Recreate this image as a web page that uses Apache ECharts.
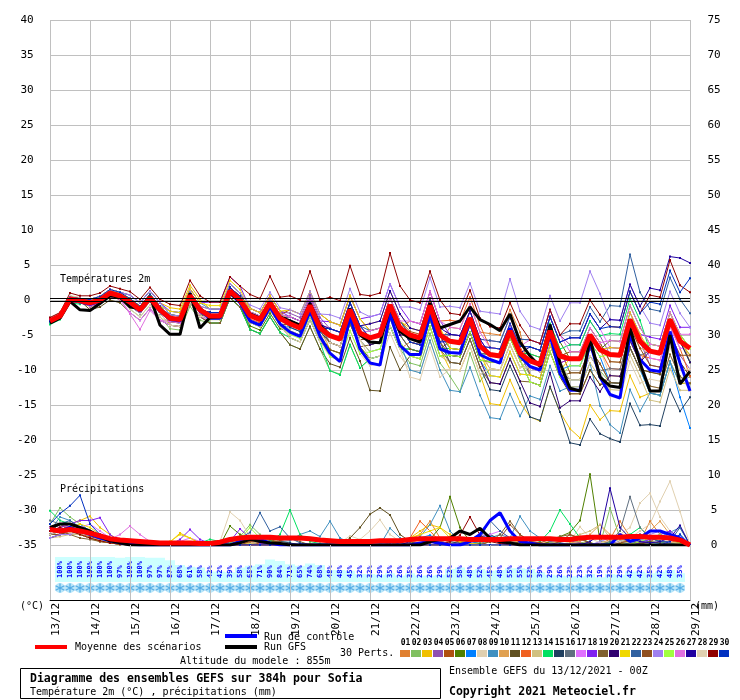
<!DOCTYPE html>
<html>
<head>
<meta charset="utf-8">
<script src="https://cdn.jsdelivr.net/npm/echarts@6/dist/echarts.min.js"></script>
<style>
  html, body { margin: 0; padding: 0; background: #fff; }
  #chart { width: 740px; height: 700px; }
</style>
</head>
<body>
<div id="chart"></div>
<script>
// tick labels, one per day (every 4 steps of 6h)
var dates = ['13/12','14/12','15/12','16/12','17/12','18/12','19/12','20/12','21/12',
             '22/12','23/12','24/12','25/12','26/12','27/12','28/12','29/12'];

// probability of precipitation, steps 1..63
var pct = [100,100,100,100,100,100,97,100,100,97, 97,87,68,61,58,42,42,39,58,65,
           71,90,84,71,65,74,68,48,48,45, 32,32,29,35,26,35,26,26,29,52,
           58,48,52,45,48,55,55,52,39,29, 26,23,23,32,19,32,29,42,42,35,
           42,48,35];

var pertColors = ['#e08030','#80c060','#f0c000','#9050b0','#b05010','#508000','#0080ff','#e0d0b0',
                  '#4090c0','#e0a050','#605020','#f06020','#d0c080','#00e060','#204060','#607080',
                  '#e070ff','#8020f0','#806030','#300070','#f0d800','#3060a0','#905020','#a080f0',
                  '#a0ff40','#e070e0','#2000a0','#e0d0b0','#900000','#0030c0'];

// 2m temperature (°C), every 6h from 13/12 00Z
var tempMean = [-3.0,-2.3,0.1,-0.1, -0.4,0.0,1.0,0.6, -0.3,-1.4,0.3,-1.4, -2.6,-2.8,0.6,-1.4,
  -2.3,-2.3,1.3,0.0, -2.2,-2.8,-0.4,-2.6, -3.4,-4.0,-0.8,-4.0, -5.1,-5.6,-1.4,-4.7,
  -5.4,-5.0,-0.7,-4.0, -5.0,-5.4,-0.8,-5.0, -5.9,-6.1,-2.6,-6.6, -7.8,-8.0,-4.4,-7.6,
  -8.7,-9.2,-4.4,-8.0, -8.4,-8.4,-5.0,-7.1, -7.8,-7.9,-2.8,-5.9, -7.3,-7.6,-2.8,-5.9, -6.9];

var tempCtrl = [-3.2,-2.5,0.0,-0.3, -0.6,-0.2,0.8,0.4, -0.5,-1.6,0.2,-1.6, -2.8,-3.0,0.4,-1.6,
  -2.6,-2.6,1.0,-0.4, -3.0,-3.6,-1.0,-3.4, -4.6,-5.2,-1.6,-5.2, -7.6,-8.8,-2.4,-7.0,
  -9.0,-9.3,-2.0,-6.5, -7.8,-7.8,-2.0,-7.0, -7.5,-7.6,-3.0,-7.8, -8.5,-9.0,-4.0,-8.0,
  -9.5,-10.0,-5.0,-10.5, -12.9,-12.9,-6.0,-11.0, -13.5,-14.0,-5.0,-8.5, -10.0,-10.2,-4.5,-9.0, -13.0];

var tempGfs = [-3.3,-2.6,-0.2,-1.4, -1.5,-0.5,0.6,0.4, -1.0,-1.2,0.5,-3.6, -4.9,-4.9,1.0,-4.0,
  -2.5,-2.4,1.0,-0.2, -2.0,-2.6,-0.6,-2.4, -3.0,-3.6,-0.5,-3.6, -5.0,-5.6,-1.2,-5.0,
  -6.0,-6.1,-1.0,-4.5, -5.5,-6.0,-0.5,-4.0, -3.5,-3.0,-1.0,-2.8, -3.5,-4.4,-2.0,-6.0,
  -8.0,-9.5,-3.5,-9.0, -12.6,-13.0,-5.5,-11.0, -12.3,-12.5,-4.0,-9.0, -13.0,-13.0,-5.0,-12.0, -10.2];

var tempPerts = [
  /*01*/ [-2.7,-2.0,0.4,0.2, -0.9,-0.5,0.5,0.1, 0.2,-0.9,0.8,-0.9, -3.6,-3.8,-0.4,-2.4, -1.8,-1.8,1.8,0.5, -1.2,-1.8,0.6,-1.6, -3.4,-4.0,-0.8,-4.0, -7.1,-7.6,-3.4,-6.7, -8.4,-8.0,-3.7,-7.0, -6.0,-6.4,-1.8,-6.0, -3.9,-4.1,-0.6,-4.6, -4.8,-5.0,-1.4,-4.6, -10.7,-11.2,-6.4,-10.0, -13.4,-13.4,-10.0,-12.1, -10.8,-10.9,-5.8,-8.9, -6.3,-6.6,-1.8,-4.9, -8.9],
  /*02*/ [-3.0,-2.6,-0.2,-0.4, -0.7,-0.3,0.7,0.3, -1.3,-2.4,-0.7,-2.4, -4.1,-4.3,-0.9,-2.9, -3.3,-3.3,0.3,-1.0, -4.2,-4.8,-2.4,-4.6, -6.4,-7.0,-3.8,-7.0, -10.1,-10.6,-6.4,-9.7, -8.4,-8.0,-3.7,-7.0, -9.0,-9.4,-4.8,-9.0, -10.9,-13.1,-7.6,-11.6, -9.8,-10.0,-6.4,-9.6, -9.7,-10.2,-5.4,-9.0, -11.4,-11.4,-8.0,-10.1, -11.8,-11.9,-6.8,-9.9, -13.3,-13.6,-8.8,-11.9, -11.9],
  /*03*/ [-2.8,-2.1,0.3,0.1, 0.1,0.5,1.5,1.1, 0.7,-0.4,1.3,-0.4, -1.1,-1.3,2.1,0.1, -1.3,-1.3,2.3,1.0, -1.7,-2.3,0.1,-2.1, -2.4,-3.0,0.2,-3.0, -5.1,-5.6,-1.4,-4.7, -6.4,-6.0,-1.7,-5.0, -7.0,-7.4,-2.8,-7.0, -9.9,-10.1,-6.6,-10.6, -14.8,-15.0,-11.4,-14.6, -16.7,-17.3,-12.4,-16.0, -18.4,-19.7,-15.0,-17.1, -15.8,-15.9,-10.8,-13.9, -13.3,-13.6,-8.8,-11.9, -11.9],
  /*04*/ [-3.0,-2.3,0.1,-0.1, 0.1,0.5,1.5,1.1, -0.8,-1.9,-0.2,-1.9, -2.6,-2.8,0.6,-1.4, -1.8,-1.8,1.8,0.5, -1.2,-1.8,0.6,-1.6, -1.9,-2.5,0.7,-2.5, -4.1,-4.6,-0.4,-3.7, -5.4,-5.0,-0.7,-4.0, -6.0,-6.4,-1.8,-6.0, -4.9,-5.1,-1.6,-5.6, -5.8,-6.0,-2.4,-5.6, -5.7,-6.2,-1.4,-5.0, -6.4,-6.4,-3.0,-5.1, -7.8,-7.9,-2.8,-5.9, -9.3,-9.6,-4.8,-7.9, -9.9],
  /*05*/ [-3.3,-2.6,-0.2,-0.4, -0.9,-0.5,0.5,0.1, -0.3,-1.4,0.3,-1.4, -2.1,-2.3,1.1,-0.9, -1.3,-1.3,2.3,1.0, -1.7,-2.3,0.1,-2.1, -1.4,-2.0,1.2,-2.0, -3.1,-3.6,0.6,-2.7, -4.4,-4.0,0.3,-3.0, -4.5,-4.9,-0.3,-4.5, -6.9,-7.1,-3.6,-7.6, -7.8,-8.0,-4.4,-7.6, -7.7,-8.2,-3.4,-7.0, -10.4,-10.4,-7.0,-9.1, -11.8,-11.9,-6.8,-9.9, -10.3,-10.6,-5.8,-8.9, -10.9],
  /*06*/ [-3.0,-2.0,0.6,0.2, -0.1,0.3,1.3,0.9, 0.2,-0.9,0.8,-0.9, -3.1,-3.3,0.1,-1.9, -3.3,-3.3,0.3,-1.0, -3.7,-4.3,-1.9,-4.1, -4.4,-5.0,-1.8,-5.0, -7.1,-7.6,-3.4,-6.7, -8.4,-8.0,-3.7,-7.0, -7.0,-7.4,-2.8,-7.0, -5.9,-6.1,-2.6,-6.6, -6.8,-7.0,-3.4,-6.6, -6.7,-7.2,-2.4,-6.0, -8.4,-8.4,-5.0,-7.1, -5.8,-5.9,-0.8,-3.9, -6.3,-6.6,-1.8,-4.9, -6.9],
  /*07*/ [-3.0,-2.5,-0.1,-0.3, -0.6,-0.2,0.8,0.4, 0.0,-1.1,0.6,-1.1, -2.1,-2.3,1.1,-0.9, -2.3,-2.3,1.3,0.0, -3.2,-3.8,-1.4,-3.6, -3.9,-4.5,-1.3,-4.5, -5.1,-5.6,-1.4,-4.7, -6.4,-6.0,-1.7,-5.0, -7.0,-7.4,-2.8,-7.0, -7.9,-8.1,-4.6,-8.6, -10.8,-11.0,-7.4,-10.6, -10.7,-11.2,-6.4,-10.0, -9.4,-9.4,-6.0,-8.1, -11.8,-11.9,-6.8,-9.9, -13.3,-13.6,-8.8,-13.9, -18.3],
  /*08*/ [-2.5,-1.8,0.6,0.4, -0.9,-0.5,0.5,0.1, -1.3,-2.4,-0.7,-2.4, -3.6,-3.8,-0.4,-2.4, -2.8,-2.8,0.8,-0.5, -2.2,-2.8,-0.4,-2.6, -5.4,-6.0,-2.8,-6.0, -8.1,-8.6,-4.4,-7.7, -9.4,-9.0,-4.7,-8.0, -10.0,-10.4,-5.8,-10.0, -9.9,-10.1,-6.6,-10.6, -10.8,-11.0,-7.4,-10.6, -10.7,-11.2,-6.4,-10.0, -8.4,-8.4,-5.0,-7.1, -10.8,-10.9,-5.8,-8.9, -12.3,-12.6,-7.8,-10.9, -12.9],
  /*09*/ [-3.3,-2.6,-0.2,-0.4, -0.4,0.0,1.0,0.6, 0.2,-0.9,0.8,-0.9, -1.6,-1.8,1.6,-0.4, -1.3,-1.3,2.3,1.0, -2.2,-2.8,-0.4,-2.6, -2.9,-3.5,-0.3,-3.5, -6.1,-6.6,-2.4,-5.7, -7.4,-7.0,-2.7,-6.0, -10.0,-10.4,-5.8,-10.0, -12.9,-13.1,-9.6,-13.6, -16.8,-17.0,-13.4,-16.6, -13.7,-14.2,-9.4,-13.0, -12.4,-12.4,-9.0,-15.1, -17.8,-19.0,-12.8,-15.9, -13.3,-13.6,-8.8,-11.9, -10.9],
  /*10*/ [-3.0,-2.3,0.1,-0.1, -0.4,0.0,1.0,0.6, 0.2,-0.9,0.8,-0.9, -2.6,-2.8,0.6,-1.4, -1.8,-1.8,1.8,0.5, -1.2,-1.8,0.6,-1.6, -3.4,-4.0,-0.8,-4.0, -4.1,-4.6,-0.4,-3.7, -3.4,-3.0,1.3,-2.0, -4.0,-4.4,0.2,-4.0, -6.9,-7.1,-3.6,-7.6, -9.8,-10.0,-6.4,-9.6, -8.7,-9.2,-4.4,-8.0, -7.4,-7.4,-4.0,-6.1, -8.8,-8.9,-3.8,-6.9, -7.3,-7.6,-2.8,-5.9, -8.9],
  /*11*/ [-3.0,-2.3,0.1,-0.1, -1.4,-1.0,0.0,-0.4, -1.8,-2.9,-1.2,-2.9, -3.6,-3.8,-0.4,-2.4, -3.3,-3.3,0.3,-1.0, -4.2,-4.8,-2.4,-4.6, -6.4,-7.0,-3.8,-7.0, -9.1,-9.6,-5.4,-8.7, -12.9,-13.0,-6.7,-10.0, -8.0,-8.4,-3.8,-8.0, -7.9,-8.1,-4.6,-8.6, -8.8,-9.0,-5.4,-8.6, -11.7,-12.2,-7.4,-11.0, -13.4,-13.4,-10.0,-12.1, -11.8,-11.9,-6.8,-9.9, -10.3,-10.6,-5.8,-8.9, -10.9],
  /*12*/ [-2.7,-2.0,0.4,0.2, -0.4,0.0,1.0,0.6, -0.3,-1.4,0.3,-1.4, -2.1,-2.3,1.1,-0.9, -2.3,-2.3,1.3,0.0, -2.7,-3.3,-0.9,-3.1, -2.9,-3.5,-0.3,-3.5, -4.1,-4.6,-0.4,-3.7, -5.4,-5.0,-0.7,-4.0, -3.0,-3.4,1.2,-3.0, -2.9,-3.1,0.4,-3.6, -6.8,-7.0,-3.4,-6.6, -9.7,-10.2,-5.4,-9.0, -8.4,-8.4,-5.0,-7.1, -9.8,-9.9,-4.8,-7.9, -8.3,-8.6,-3.8,-6.9, -10.9],
  /*13*/ [-3.0,-2.3,0.1,-0.1, 0.1,0.5,1.5,1.1, -0.3,-1.4,0.3,-1.4, -2.6,-2.8,0.6,-1.4, -3.3,-3.3,0.3,-1.0, -2.2,-2.8,-0.4,-2.6, -4.4,-5.0,-1.8,-5.0, -6.1,-6.6,-2.4,-5.7, -7.4,-7.0,-2.7,-6.0, -8.0,-8.4,-3.8,-8.0, -8.9,-9.1,-5.6,-9.6, -8.8,-9.0,-5.4,-8.6, -10.7,-11.2,-6.4,-10.0, -12.4,-12.4,-9.0,-11.1, -12.8,-12.9,-7.8,-10.9, -14.3,-14.6,-9.8,-12.9, -12.9],
  /*14*/ [-3.5,-2.8,-0.4,-0.6, 0.1,0.5,1.5,1.1, 0.7,-0.4,1.3,-0.4, -2.1,-2.3,1.1,-0.9, -3.3,-3.3,0.3,-1.0, -4.2,-4.8,-2.4,-4.6, -5.4,-6.0,-2.8,-6.0, -10.1,-10.7,-6.4,-9.7, -8.4,-8.0,-3.7,-7.0, -7.0,-7.4,-2.8,-7.0, -6.9,-7.1,-3.6,-7.6, -7.8,-8.0,-4.4,-7.6, -7.7,-8.2,-3.4,-7.0, -6.4,-6.4,-3.0,-5.1, -4.8,-4.9,0.2,-2.9, -7.3,-7.6,-2.8,-5.9, -8.9],
  /*15*/ [-3.0,-2.3,0.1,-0.1, -0.4,0.0,1.0,0.6, -0.8,-1.9,-0.2,-1.9, -2.6,-2.8,0.6,-1.4, -1.8,-1.8,1.8,0.5, -2.2,-2.8,-0.4,-2.6, -3.9,-4.5,-1.3,-4.5, -6.1,-6.6,-2.4,-5.7, -5.4,-5.0,-0.7,-4.0, -6.0,-6.4,-1.8,-6.0, -8.9,-9.1,-5.6,-9.6, -12.8,-13.0,-9.4,-12.6, -16.7,-17.2,-12.4,-16.0, -20.4,-20.7,-17.0,-19.1, -19.8,-20.3,-14.8,-17.9, -17.8,-18.0,-12.8,-15.9, -13.9],
  /*16*/ [-3.0,-2.3,0.1,-0.1, -0.4,0.0,1.0,0.6, -0.3,-1.4,0.3,-1.4, -2.1,-2.3,1.1,-0.9, -2.3,-2.3,1.3,0.0, -1.7,-2.3,0.1,-2.1, -2.4,-3.0,0.2,-3.0, -5.1,-5.6,-1.4,-4.7, -4.4,-4.0,0.3,-3.0, -5.0,-5.4,-0.8,-5.0, -6.9,-7.1,-3.6,-7.6, -7.8,-8.0,-4.4,-7.6, -10.7,-11.2,-6.4,-10.0, -11.4,-11.4,-8.0,-10.1, -9.8,-9.9,-4.8,-7.9, -7.3,-7.6,-2.8,-5.9, -7.9],
  /*17*/ [-3.0,-2.3,0.1,-0.1, -0.9,-0.5,0.5,0.1, -1.8,-2.9,-1.2,-2.9, -3.6,-3.8,-0.4,-2.4, -2.8,-2.8,0.8,-0.5, -2.2,-2.8,-0.4,-2.6, -2.9,-3.5,-0.3,-3.5, -4.1,-4.6,-0.4,-3.7, -5.4,-5.0,-0.7,-4.0, -6.0,-6.4,-1.8,-6.0, -5.9,-6.1,-2.6,-6.6, -6.8,-7.0,-3.4,-6.6, -6.7,-7.2,-2.4,-6.0, -5.4,-5.4,-2.0,-4.1, -6.8,-6.9,-1.8,-4.9, -8.3,-8.6,-3.8,-6.9, -6.9],
  /*18*/ [-2.7,-2.0,0.4,0.2, 0.1,0.5,1.5,1.1, 0.7,-0.4,1.3,-0.4, -1.6,-1.8,1.6,-0.4, -0.3,-0.3,3.3,2.0, -1.2,-1.8,0.6,-1.6, -2.4,-3.0,0.2,-3.0, -3.1,-3.6,0.6,-2.7, -2.4,-2.0,2.3,-1.0, -3.0,-3.4,1.2,-3.0, -4.9,-5.1,-1.6,-5.6, -7.8,-8.0,-4.4,-7.6, -9.7,-10.2,-5.4,-9.0, -8.4,-8.4,-5.0,-7.1, -6.8,-6.9,-1.8,-4.9, -5.3,-5.6,-0.8,-3.9, -3.9],
  /*19*/ [-3.0,-2.3,0.1,-0.1, -0.9,-0.5,0.5,0.1, -0.8,-1.9,-0.2,-1.9, -3.6,-3.8,-0.4,-2.4, -3.3,-3.3,0.3,-1.0, -3.2,-3.8,-1.4,-3.6, -5.4,-6.0,-2.8,-6.0, -7.1,-7.6,-3.4,-6.7, -6.4,-6.0,-1.7,-5.0, -7.0,-7.4,-2.8,-7.0, -8.9,-9.1,-5.6,-9.6, -11.8,-12.0,-8.4,-11.6, -11.7,-12.2,-7.4,-11.0, -10.4,-10.4,-7.0,-9.1, -11.8,-11.9,-6.8,-9.9, -12.3,-12.6,-7.8,-10.9, -11.9],
  /*20*/ [-3.0,-2.3,0.1,-0.1, -0.4,0.0,1.0,0.6, 0.2,-0.9,0.8,-0.9, -2.6,-2.8,0.6,-1.4, -1.8,-1.8,1.8,0.5, -2.2,-2.8,-0.4,-2.6, -2.4,-3.0,0.2,-3.0, -5.1,-5.6,-1.4,-4.7, -6.4,-6.0,-1.7,-5.0, -5.0,-5.4,-0.8,-5.0, -7.9,-8.1,-4.6,-8.6, -11.8,-12.0,-8.4,-11.6, -14.7,-15.2,-10.4,-15.4, -14.4,-14.4,-11.0,-13.1, -10.8,-10.9,-5.8,-8.9, -7.3,-7.6,-2.8,-5.9, -8.9],
  /*21*/ [-3.0,-2.3,0.1,-0.1, 0.1,0.5,1.5,1.1, 0.2,-0.9,0.8,-0.9, -1.6,-1.8,1.6,-0.4, -0.8,-0.8,2.8,1.5, -1.2,-1.8,0.6,-1.6, -1.4,-2.0,1.2,-2.0, -3.1,-3.6,0.6,-2.7, -4.4,-4.0,0.3,-3.0, -4.0,-4.4,0.2,-4.0, -6.9,-7.1,-3.6,-7.6, -10.8,-11.0,-7.4,-10.6, -10.7,-11.2,-6.4,-10.0, -8.4,-8.4,-5.0,-7.1, -6.8,-6.9,-1.8,-4.9, -7.3,-7.6,-2.8,-5.9, -7.9],
  /*22*/ [-3.0,-2.3,0.1,-0.1, -0.4,0.0,1.0,0.6, -0.8,-1.9,-0.2,-1.9, -2.6,-2.8,0.6,-1.4, -2.3,-2.3,1.3,0.0, -1.7,-2.3,0.1,-2.1, -3.4,-4.0,-0.8,-4.0, -4.1,-4.6,-0.4,-3.7, -4.4,-4.0,0.3,-3.0, -5.0,-5.4,-0.8,-5.0, -4.9,-5.1,-1.6,-5.6, -5.8,-6.0,-2.4,-5.6, -5.7,-6.2,-1.4,-5.0, -4.4,-4.4,-1.0,-3.1, -0.8,-0.9,6.5,1.1, -1.3,-1.6,3.2,0.1, -1.9],
  /*23*/ [-3.0,-2.3,0.1,-0.1, -0.9,-0.5,0.5,0.1, -0.3,-1.4,0.3,-1.4, -3.1,-3.3,0.1,-1.9, -2.3,-2.3,1.3,0.0, -3.2,-3.8,-1.4,-3.6, -3.4,-4.0,-0.8,-4.0, -6.1,-6.6,-2.4,-5.7, -5.4,-5.0,-0.7,-4.0, -6.0,-6.4,-1.8,-6.0, -7.9,-8.1,-4.6,-8.6, -8.8,-9.0,-5.4,-8.6, -8.7,-9.2,-4.4,-8.0, -7.4,-7.4,-4.0,-6.1, -8.8,-8.9,-3.8,-6.9, -9.3,-9.6,-4.8,-7.9, -7.9],
  /*24*/ [-3.0,-2.3,0.1,-0.1, 0.1,0.5,1.5,1.1, 0.7,-0.4,1.3,-0.4, -2.1,-2.3,1.1,-0.9, -1.3,-1.3,2.3,1.0, -0.7,-1.3,1.1,-1.1, -1.4,-2.0,1.2,-2.0, -2.1,-2.6,1.6,-1.7, -2.4,-2.0,2.3,-1.0, -1.0,-1.4,3.2,-1.0, -0.9,-1.1,2.4,-1.6, -1.8,-2.0,3.0,-1.6, -3.7,-4.2,0.6,-3.0, -0.4,-0.4,4.1,0.9, -2.8,-2.9,2.2,-0.9, -3.3,-3.6,1.2,-1.9, -3.9],
  /*25*/ [-3.0,-2.3,0.1,-0.1, -0.4,0.0,1.0,0.6, 0.2,-0.9,0.8,-0.9, -2.6,-2.8,0.6,-1.4, -2.8,-2.8,0.8,-0.5, -3.2,-3.8,-1.4,-3.6, -4.9,-5.5,-2.3,-5.5, -8.1,-8.6,-4.4,-7.7, -7.4,-7.0,-2.7,-6.0, -8.0,-8.4,-3.8,-8.0, -7.9,-8.1,-4.6,-8.6, -8.8,-9.0,-5.4,-8.6, -11.7,-12.2,-7.4,-11.0, -9.4,-9.4,-6.0,-8.1, -7.8,-7.9,-2.8,-5.9, -6.3,-6.6,-1.8,-4.9, -6.9],
  /*26*/ [-3.0,-2.3,0.1,-0.1, -0.9,-0.5,0.5,0.1, -2.0,-4.2,-1.5,-2.9, -3.1,-3.3,0.1,-1.9, -2.3,-2.3,1.3,0.0, -1.7,-2.3,0.1,-2.1, -2.4,-3.0,0.2,-3.0, -5.1,-5.6,-1.4,-4.7, -4.4,-4.0,0.3,-3.0, -3.0,-3.4,1.2,-3.0, -3.9,-4.1,-0.6,-4.6, -6.8,-7.0,-3.4,-6.6, -5.7,-6.2,-1.4,-5.0, -7.4,-7.4,-4.0,-6.1, -5.8,-5.9,-0.8,-3.9, -6.3,-6.6,-1.8,-4.9, -4.9],
  /*27*/ [-3.0,-2.3,0.1,-0.1, -0.4,0.0,1.0,0.6, -0.3,-1.4,0.3,-1.4, -2.6,-2.8,0.6,-1.4, -1.8,-1.8,1.8,0.5, -2.2,-2.8,-0.4,-2.6, -2.9,-3.5,-0.3,-3.5, -4.1,-4.6,-0.4,-3.7, -3.4,-3.0,1.3,-2.0, -4.0,-4.4,0.2,-4.0, -4.9,-5.1,-1.6,-5.6, -7.8,-8.0,-4.4,-7.6, -6.7,-7.2,-2.4,-6.0, -5.4,-5.4,-2.0,-4.1, -2.8,-2.9,2.2,-0.9, 1.7,1.4,6.2,6.0, 5.3],
  /*28*/ [-3.0,-2.3,0.1,-0.1, 0.1,0.5,1.5,1.1, -0.8,-1.9,-0.2,-1.9, -3.6,-3.8,-0.4,-2.4, -2.3,-2.3,1.3,0.0, -3.2,-3.8,-1.4,-3.6, -5.4,-6.0,-2.8,-6.0, -6.1,-6.6,-2.4,-5.7, -8.4,-8.0,-3.7,-7.0, -11.0,-11.4,-6.8,-11.0, -9.9,-10.1,-6.6,-10.6, -9.8,-10.0,-6.4,-9.6, -9.7,-10.2,-5.4,-9.0, -11.4,-11.4,-8.0,-10.1, -13.8,-13.9,-8.8,-11.9, -11.3,-11.6,-6.8,-9.9, -9.9],
  /*29*/ [-2.5,-1.8,1.0,0.6, 0.6,1.0,2.0,1.6, 1.2,0.1,1.8,0.1, -0.6,-0.8,2.8,0.6, -0.3,-0.3,3.3,2.0, 0.8,0.2,3.4,0.4, 0.6,0.0,4.1,0.0, 0.4,-0.1,4.9,0.8, 0.6,1.0,6.7,2.0, 0.0,-0.4,4.1,0.0, -1.9,-2.1,1.4,-2.6, -3.8,-4.0,-0.4,-3.6, -5.7,-6.2,-1.4,-5.0, -3.4,-3.4,0.0,-2.1, -3.8,-3.9,1.2,-1.9, 0.7,0.4,5.7,2.1, 1.1],
  /*30*/ [-3.0,-2.3,0.1,-0.1, 0.1,0.5,1.5,1.1, 0.2,-0.9,0.8,-0.9, -2.6,-2.8,0.6,-1.4, -1.8,-1.8,1.8,0.5, -2.2,-2.8,-0.4,-2.6, -3.4,-4.0,-0.8,-4.0, -4.1,-4.6,-0.4,-3.7, -5.4,-5.0,-0.7,-4.0, -6.0,-6.4,-1.8,-6.0, -5.9,-6.1,-2.6,-6.6, -6.8,-7.0,-3.4,-6.6, -6.7,-7.2,-2.4,-6.0, -5.4,-5.4,-2.0,-4.1, -3.8,-3.9,1.2,-1.9, -0.3,-0.6,4.2,1.1, 3.1]
];

// 6h precipitation (mm)
var precMean = [2.2,2.0,2.2,2.0,1.7,1.3,0.9,0.7, 0.6,0.5,0.4,0.3,0.3,0.3,0.3,0.2,
  0.2,0.4,0.8,1.0,1.1,1.1,1.1,1.0, 1.0,1.0,0.9,0.7,0.6,0.5,0.5,0.5,
  0.5,0.6,0.6,0.6,0.8,0.9,0.9,0.9, 0.9,0.9,0.8,0.8,0.8,0.8,0.9,0.9,
  0.9,0.9,0.9,0.8,0.8,1.0,1.1,1.1, 1.1,1.1,1.2,1.2,1.1,1.1,1.0,0.7, 0];

var precCtrl = [2.2,2.0,2.5,2.0,1.5,1.0,0.6,0.3, 0.1,0,0,0,0,0,0,0, 0,0,0,0.5,1.2,0.8,0.3,0,
  0,0,0,0,0,0,0,0, 0,0,0,0,0,0.3,0.5,0.3, 0,0,0.5,1.5,3.5,4.6,2.0,0.5,
  0.3,0,0,0,0,0,0,0, 0,1.5,0.5,1.0,2.0,2.0,1.5,1.0, 0];

var precGfs = [2.5,3.0,3.0,2.5,2.0,1.2,0.6,0.3, 0,0,0,0,0,0,0,0, 0,0,0,0.3,0.8,0.5,0.3,0.2,
  0,0,0,0,0,0,0,0, 0,0,0,0,0,0,0.5,0.8, 1.0,2.0,1.5,2.4,1.0,0.5,0.3,0,
  0,0,0,0,0,0,0,0, 0,0,0,0,0,0,0,0, 0];

var precPerts = [
  /*01*/ [1.5,2.0,2.5,2.0,1.5,1.0,0.5,0.3, 0.2,0.1,0,0,0,0,0,0, 0,0,0.5,1.0,0.8,0.5,0.3,0.2, 0,0,0,0,0.3,0.2,0,0, 0,0,0.3,0.5,0.8,1.5,3.4,1.0, 0.3,0,0.2,0.3,0.5,0.4,0.2,0, 0,0.2,0.4,0.3,0,0,0,0.2, 0.8,3.4,1.2,0.5,3.4,1.5,0.6,0.3, 0],
  /*02*/ [3.0,5.3,4.0,3.0,2.0,1.2,0.8,0.4, 0.2,0,0,0,0,0,0,0, 0,0,0.4,1.2,2.9,1.5,0.6,0.3, 0.2,0,0,0,0,0,0,0, 0,0,0,0,0,0.2,0.5,0.3, 0.2,0.5,0.3,0,0,0,0,0, 0,0,0.3,0.5,0.8,0.4,0.2,0, 5.3,1.0,0.3,0.5,0.2,0,0.3,0.2, 0],
  /*03*/ [2.0,2.5,3.0,3.5,4.1,2.5,1.5,0.6, 0.3,0.2,0,0,0.4,1.7,1.0,0.3, 0,0,0.2,0.3,0.2,0,0,0, 0,0,0.2,0,0,0,0,0, 0,0,0,0.5,1.0,2.0,2.9,2.5, 1.5,0.8,0.3,0,0,0,0.3,0.5, 0.3,0,0,0,0,0.2,0.3,0, 0,0.2,0.3,0,0,0,0,0, 0],
  /*04*/ [1.0,1.5,2.0,2.5,2.0,1.5,0.8,0.3, 0.2,0,0,0,0,0,0,0, 0,0,0,0.5,0.8,0.4,0.2,0, 0,0,0,0,0,0,0,0, 0,0,0,0.2,0.4,0.3,0,0, 0,0.4,0.8,1.6,1.0,0.5,0.2,0, 0,0,0.2,0.4,0.6,0.3,0,0, 0.2,0.5,0.8,1.2,0.8,1.5,1.0,0.5, 0],
  /*05*/ [2.5,2.0,1.5,1.5,1.2,0.8,0.4,0.2, 0,0,0,0,0,0,0,0, 0,0,0,0,0,0.3,0.6,0.3, 0,0,0,0,0,0,0,0, 0,0,0,0,0,0,0.3,0.5, 0.8,0.4,0.2,0,0,0,0,0, 0,0,0,0,0,0,0,0.2, 0.5,1.0,0.6,0.2,0.5,1.2,0.8,0.3, 0],
  /*06*/ [2.0,3.0,2.5,2.0,1.5,1.0,0.6,0.2, 0,0,0,0,0,0,0,0, 0,0,2.7,1.5,0.8,0.4,0.6,0.3, 0,0,0,0,0,0,0,0, 0,0,0,0,0,0,0.8,2.5, 6.9,2.5,0.5,0.2,0,0,0,0, 0,0,0.5,1.2,1.8,3.5,10.1,0.5, 0.2,0,0,0,0,0,0,0, 0],
  /*07*/ [1.5,2.0,2.5,3.0,2.0,1.2,0.8,0.4, 0.2,0,0,0,0,0,0,0, 0,0,0,0.5,1.0,0.6,0.2,0, 0,0,0,0,0,0,0,0, 0,0,0,0.3,0.6,1.0,1.4,0.5, 0.2,0,0.3,0.5,1.2,1.0,0.4,0.2, 0,0,0,0,0,0,0,0, 0,0.3,0.5,0.8,0.4,0.2,0.6,1.5, 0],
  /*08*/ [1.0,1.5,1.5,2.0,1.5,1.0,0.5,0.2, 0,0,0,0,0,0,0,0, 0,0.5,4.7,3.5,1.2,0.4,0.2,0, 0,0,0,0,0,0.3,1.3,0.8, 2.0,3.6,1.5,0.5,0.2,0,0,0, 0,0,0,0,0,0,0,0, 0,0,0,0,0.5,2.6,1.0,0.3, 0.5,1.5,2.5,6.0,7.4,4.0,2.0,0.8, 0],
  /*09*/ [2.0,4.0,3.5,2.5,1.8,1.2,0.6,0.3, 0.1,0,0,0,0,0,0,0, 0,0,0,0,0,0.5,1.0,0.5, 0.6,1.5,2.0,1.2,3.4,1.0,0.3,0, 0,0,2.4,1.0,0.5,1.2,2.9,5.6, 2.0,0.5,0.2,0,1.0,1.5,1.0,4.1, 2.0,1.0,0.5,0.3,0,0,0,0, 0,0,0.3,0.5,0.8,1.2,1.8,2.5, 0],
  /*10*/ [1.5,2.0,2.0,1.5,1.0,0.6,0.3,0.1, 0,0,0,0,0,0,0,0, 0,0,0.3,0.5,0.3,0,0,0, 0,0,0,0,0,0,0,0, 0,0,0,0,0.3,0.8,0.5,0.2, 0,0,0,0,0,0,0,0, 0,0,0,0,0.3,0.5,1.5,2.9, 1.5,0.8,0.5,1.0,2.0,3.4,1.5,0.5, 0],
  /*11*/ [2.5,3.0,2.0,1.5,1.0,0.8,0.4,0.2, 0,0,0,0,0,0,0,0, 0,0,0.5,0.8,0.5,0.3,0,0, 0,0,0,0,0,0,1.0,2.5, 4.4,5.3,4.3,1.5,0.5,0,0,0, 0,0,0,0,0,0,0.5,0.3, 0,0,0,0,0,0,0,0, 0,0,0,0.3,0.5,0.3,0.2,0, 0],
  /*12*/ [2.0,2.5,3.0,2.5,2.0,1.5,0.8,0.4, 0.2,0,0,0,0,0,0,0, 0,0,0,0.3,0.5,0.3,0,0, 0,0,0,0,0,0,0,0, 0,0,0,0.5,1.0,3.4,2.0,0.5, 0.2,0,0,0,0,0,0,0, 0,0,0,0,0,0,0,0, 0,0.3,0.8,1.5,1.0,0.5,0.3,0.2, 0],
  /*13*/ [1.0,1.2,1.5,1.5,1.0,0.5,0.3,0.1, 0,0,0,0,0,0,0,0, 0,0,0,0,0.2,0.5,0.8,0.5, 0.2,0,0,0,0,0,0,0, 0,0.2,0.5,0.3,0,0,0,0, 0,0,0,0,0,0,0,0, 0,0,0.2,0.5,1.0,1.5,2.0,2.9, 1.0,0.5,0.3,0.8,1.2,0.6,0.3,0.2, 0],
  /*14*/ [4.9,3.5,3.0,2.5,2.0,1.5,0.8,0.4, 0.2,0.1,0,0,0,0,0,0.3, 0.8,0.5,0.2,0,0,0,0.5,1.5, 5.0,1.5,0.5,0.2,0,0,0,0, 0,0,0,0,0,0,0,0, 0,0,0,0,0,0,0,0, 0,0.5,2.0,5.0,3.0,1.0,0.3,0, 0.3,1.0,1.5,2.5,1.0,0.5,0.2,0, 0],
  /*15*/ [1.5,2.0,2.5,2.0,1.5,1.0,0.5,0.2, 0,0,0,0,0,0,0,0, 0,0,0,0,0,0,0.3,0.5, 0.3,0,0,0,0,0,0,0, 0,0,0,0,0,0,0.5,1.0, 0.5,0.2,0.5,1.0,1.5,0.8,0.3,0, 0,0,0,0,0,0,0,0, 0,0,0,0,0,0,0,0, 0],
  /*16*/ [3.5,3.0,2.5,2.0,1.5,1.0,0.5,0.2, 0,0,0,0,0,0,0,0, 0,0,0,0,0,0,0,0, 0,0,0,0,0,0,0,0, 0,0,0,0,0,0,0,0, 0,0,0,0,0,0,0,0, 0,0,0,0,0,0,0,0, 0.5,2.0,6.9,2.5,1.0,0.5,0.2,0, 0],
  /*17*/ [2.0,2.5,2.0,2.5,3.0,2.0,1.0,0.5, 0.3,0,0,0,0,0.5,1.0,0.5, 0,0,0,0,0,0,0,0, 0,0,0,0,0,0,0,0, 0,0,0,0,0,0,0,0, 0,0,0.3,0.8,1.5,2.0,1.0,0.5, 0,0,0,0,0,0,0,0, 0,0,0,0,0,0,0,0, 0],
  /*18*/ [2.0,2.5,3.0,3.5,3.5,3.9,1.5,0.5, 0.2,0,0,0,0,0.8,2.2,0.8, 0.2,0,0.5,2.3,1.0,0.3,0,0, 0,0,0,0,0,0,0,0, 0,0,0,0,0,0,0,0, 0,0,0,0,0,0,0,0, 0,0,0,0,0,0,0,0, 0,0,0,0.3,0.8,1.5,2.0,1.0, 0],
  /*19*/ [1.5,2.0,1.5,1.0,0.8,0.5,0.3,0.1, 0,0,0,0,0,0,0,0, 0,0,0,0,0,0,0.3,0.6, 1.0,0.5,0,0,0,0,0,0, 0,0,0,0,0,0,0,0, 0,0,0,0,0.5,1.5,3.4,1.5, 0.5,0.3,0.8,1.2,1.5,0.8,0.3,0, 0,0,0,0,0,0,0,0, 0],
  /*20*/ [1.0,1.5,2.0,2.0,1.5,1.0,0.5,0.2, 0,0,0,0,0,0,0,0, 0,0,0,0,0,0,0,0, 0,0,0,0,0,0,0,0, 0,0,0,0,0,0.3,0.5,0.3, 0,0,0.5,1.2,0.8,0.3,0,0, 0,0,0,0,0,0,0,0, 0,0,0,0,0,0,0,0, 0],
  /*21*/ [1.5,2.0,2.5,3.0,2.5,1.5,0.8,0.3, 0.1,0,0,0,0.5,1.5,1.0,0.2, 0,0,0,0,0,0,0,0, 0,0,0,0,0,0,0,0, 0,0,0,0.5,1.0,1.5,2.0,2.5, 1.0,0.5,0.3,0,0,0,0,0, 0,0,0,0,0,0,0,0, 0,0,0,0,0,0,0,0, 0],
  /*22*/ [2.0,3.0,3.5,2.5,2.0,1.5,0.6,0.3, 0,0,0,0,0,0,0,0, 0,0,0.3,1.0,1.8,4.6,2.0,2.6, 1.0,0.3,0,0,0,0,0,0, 0,0,0,0,0,0,0,0, 0,0,0.5,1.0,3.5,2.0,1.0,0.5, 0,0,0,0,0,0,0,0, 0,0.5,1.0,1.5,1.0,0.5,0.5,2.5, 0],
  /*23*/ [1.5,1.5,2.0,1.5,1.0,0.5,0.3,0.1, 0,0,0,0,0,0,0,0, 0,0,0,0,0.5,1.0,0.8,0.3, 0,0,0,0,0,0,0,0, 0,0,0,0,0,0,0,0, 0,0,0,0,0.5,1.0,2.9,1.5, 0.5,0.3,0,0.5,1.5,1.0,0.3,0, 0,0.3,0.6,0.3,0,0,0,0, 0],
  /*24*/ [1.0,1.5,1.5,2.0,1.5,1.0,0.5,0.2, 0,0,0,0,0,0,0,0, 0,0,0,0.4,0.8,0.5,0.2,0, 0,0,0,0,0,0,0,0, 0,0,0,0,0,0,0,0, 0,0,0.5,1.6,1.0,0.5,0.2,0, 0,0,0,0,0,0,0,0.5, 1.0,1.5,0.8,0.5,1.5,2.0,1.0,0.5, 0],
  /*25*/ [1.5,2.0,2.0,1.5,1.0,0.6,0.3,0.1, 0,0,0,0,0,0,0,0, 0,0,0.2,0.8,2.5,1.0,0.3,0, 0,0,0,0,0,0,0,0, 0,0,0,0,0,0,0,0, 0,0,0,0,0,0,0,0, 0,0,0,0,0,0,0,0, 0,0,0,0.5,1.0,1.5,0.8,0.3, 0],
  /*26*/ [2.5,3.0,2.5,2.0,1.5,1.0,0.8,1.5, 2.7,1.5,0.5,0.2,0,0,0,0, 0,0,0,0,0,0,0,0, 0,0,0,0,0,0,0,0, 0,0,0,0,0,0,0,0, 0,0,0,0,0,0,0,0, 0,0,0,0,0,0,0,0, 0,0,0,0,0,0,0.5,1.0, 0],
  /*27*/ [1.5,2.0,2.5,2.0,1.5,1.0,0.5,0.2, 0,0,0,0,0,0,0,0, 0,0,0,0,0,0,0,0, 0,0,0,0,0,0,0,0, 0,0,0,0,0.5,1.0,0.5,0, 0,0,0,0,0,0,0,0, 0,0,0,0,0,0,0.5,1.5, 8.1,2.5,1.0,0.5,0.3,0.5,1.0,2.8, 0],
  /*28*/ [1.5,2.0,1.8,1.5,1.0,0.8,0.4,0.2, 0,0,0,0,0,0,0,0, 0,0,0,0,0,0,0,0, 0,0,0,0,0,0,0,0, 0,0,0,0,0,0,0,0, 0,0,0,0,0,0,0,0, 0,0,0,0,0,0,0,0, 0,0.5,1.0,2.0,3.0,6.2,9.1,4.8, 0],
  /*29*/ [2.0,2.5,2.0,1.5,1.0,0.6,0.3,0.1, 0,0,0,0,0,0,0,0, 0,0,0,0,0,0,0,0, 0,0,0,0,0,0,0,0, 0,0,0,0,0,0,0,0, 0.5,1.4,4.0,1.4,0.5,0.2,0,0, 0,0,0,0,0,0,0,0, 0,0,0,0,0,0,0,0, 0],
  /*30*/ [3.0,4.5,5.6,7.1,3.0,1.5,0.8,0.3, 0.1,0,0,0,0,0,0,0, 0,0,0,0,0,0,0,0, 0,0,0,0,0,0,0,0, 0,0,0,0,0,0,0,0, 0,0,0,0,0,0,0,0, 0,0,0,0,0,0,0,0, 0,0,0,0,0,0,0.5,1.5, 0]
];

var mono = 'DejaVu Sans Mono';
var grey = '#c0c0c0';
var myChart = echarts.init(document.getElementById('chart'));

function pts(arr) {
  return arr.map(function (v, i) { return [i, v]; });
}

function line(data, color, width, yIdx, z, sym) {
  return {
    type: 'line', xAxisIndex: 0, yAxisIndex: yIdx, data: pts(data),
    symbol: sym ? 'rect' : 'none', symbolSize: 2, z: z,
    lineStyle: { color: color, width: width }, itemStyle: { color: color },
    emphasis: { disabled: true }, animation: false
  };
}

var series = [];
tempPerts.forEach(function (arr, i) {
  var s = line(arr, pertColors[i], 1, 0, 2, true);
  if (i === 0) {
    // the double black 0°C line
    s.markLine = {
      silent: true, symbol: 'none', label: { show: false },
      lineStyle: { color: '#000', width: 1, type: 'solid' },
      data: [{ yAxis: 0.2 }, { yAxis: -0.2 }]
    };
  }
  series.push(s);
});
precPerts.forEach(function (arr, i) {
  series.push(line(arr, pertColors[i], 1, 1, 2, true));
});
series.push(line(tempCtrl, '#0000ff', 3, 0, 3, false));
series.push(line(precCtrl, '#0000ff', 3, 1, 3, false));
series.push(line(tempGfs, '#000000', 3, 0, 3, false));
series.push(line(precGfs, '#000000', 3, 1, 3, false));
series.push(line(tempMean, '#ff0000', 5, 0, 4, false));
series.push(line(precMean, '#ff0000', 5, 1, 4, false));

// probability strip
series.push({
  type: 'bar', xAxisIndex: 2, yAxisIndex: 3, barWidth: 10,
  data: pct.map(function (v, i) { return [i + 1, v]; }),
  itemStyle: { color: '#ccffff' }, z: 1, animation: false,
  label: {
    show: true, position: 'insideBottom', distance: 4, rotate: 90,
    align: 'left', verticalAlign: 'middle',
    formatter: function (p) { return p.value[1] + '%'; },
    color: '#0000ff', fontFamily: mono, fontSize: 7, fontWeight: 'bold'
  }
});
series.push({
  type: 'scatter', xAxisIndex: 3, yAxisIndex: 4, symbol: 'circle', symbolSize: 10,
  data: pct.map(function (v, i) { return [i + 1, 0.5]; }),
  itemStyle: { color: '#a8e0f8' }, z: 1, animation: false, silent: true
});
series.push({
  type: 'scatter', xAxisIndex: 3, yAxisIndex: 4,
  symbol: 'path://M5,0L5,10M0.7,2.5L9.3,7.5M0.7,7.5L9.3,2.5', symbolSize: 9,
  data: pct.map(function (v, i) { return [i + 1, 0.5]; }),
  itemStyle: { color: 'none', borderColor: '#3a9ee0', borderWidth: 1.2 },
  z: 2, animation: false, silent: true
});

function txt(x, y, s, size, bold, extra) {
  var style = { text: s, x: x, y: y, fill: '#000', font: (bold ? 'bold ' : '') + size + 'px "' + mono + '"', textVerticalAlign: 'middle' };
  if (extra) for (var k in extra) style[k] = extra[k];
  return { type: 'text', style: style, z: 10 };
}

var graphics = [
  txt(60, 279, 'Températures 2m', 10, false),
  txt(60, 489, 'Précipitations', 10, false),
  txt(20, 606, '(°C)', 10, false),
  txt(695, 606, '(mm)', 10, false),
  { type: 'rect', shape: { x: 35, y: 645, width: 32, height: 4 }, style: { fill: '#ff0000' } },
  txt(75, 647, 'Moyenne des scénarios', 10, false),
  { type: 'rect', shape: { x: 225, y: 634, width: 32, height: 4 }, style: { fill: '#0000ff' } },
  txt(264, 637, 'Run de contrôle', 10, false),
  { type: 'rect', shape: { x: 225, y: 645, width: 32, height: 4 }, style: { fill: '#000000' } },
  txt(264, 647, 'Run GFS', 10, false),
  txt(180, 661, 'Altitude du modele : 855m', 10, false),
  txt(340, 653, '30 Perts.', 10, false),
  { type: 'rect', shape: { x: 20.5, y: 668.5, width: 420, height: 30 }, style: { fill: '#fff', stroke: '#000', lineWidth: 1 } },
  txt(30, 679, 'Diagramme des ensembles GEFS sur 384h pour Sofia', 11.5, true),
  txt(30, 692, 'Température 2m (°C) , précipitations (mm)', 10, false),
  txt(449, 671, 'Ensemble GEFS du 13/12/2021 - 00Z', 10, false),
  txt(449, 692, 'Copyright 2021 Meteociel.fr', 11.5, true)
];
pertColors.forEach(function (c, i) {
  var n = (i < 9 ? '0' : '') + (i + 1);
  graphics.push(txt(400 + 11 * i + 5.5, 643, n, 8, true, { textAlign: 'center' }));
  graphics.push({ type: 'rect', shape: { x: 400 + 11 * i, y: 650, width: 10, height: 7 }, style: { fill: c } });
});

var hiddenX = function (g) { return { gridIndex: g, type: 'value', min: 0, max: 64, show: false }; };
var hiddenY = function (g, mx) { return { gridIndex: g, type: 'value', min: 0, max: mx, show: false }; };

var option = {
  backgroundColor: '#fff',
  animation: false,
  grid: [
    { left: 50, top: 20, width: 640, height: 525 },
    { left: 50, top: 545, width: 640, height: 55 },
    { left: 50, top: 557, width: 640, height: 25 },
    { left: 50, top: 582, width: 640, height: 12 },
    { left: 56, top: 545, width: 640, height: 55 }
  ],
  xAxis: [
    { gridIndex: 0, type: 'value', min: 0, max: 64, interval: 4,
      axisLine: { show: false }, axisTick: { show: false }, axisLabel: { show: false },
      splitLine: { show: true, lineStyle: { color: grey, width: 1 } } },
    { gridIndex: 1, type: 'value', min: 0, max: 64, interval: 4, z: 5,
      axisLine: { show: true, lineStyle: { color: '#000', width: 1 } }, axisTick: { show: false },
      axisLabel: { show: false },
      splitLine: { show: true, lineStyle: { color: grey, width: 1 } } },
    hiddenX(2),
    hiddenX(3),
    { gridIndex: 4, type: 'value', min: 0, max: 64, interval: 4,
      axisLine: { show: false }, axisTick: { show: false }, splitLine: { show: false },
      axisLabel: { rotate: 90, margin: 3, color: '#000', fontFamily: mono, fontSize: 11,
        showMinLabel: true, showMaxLabel: true,
        formatter: function (v) { return dates[v / 4]; } } }
  ],
  yAxis: [
    { gridIndex: 0, type: 'value', min: -35, max: 40, interval: 5,
      axisLine: { show: false }, axisTick: { show: false },
      axisLabel: { align: 'center', margin: 23, color: '#000', fontFamily: mono, fontSize: 11 },
      splitLine: { show: true, lineStyle: { color: grey, width: 1 } } },
    { gridIndex: 0, type: 'value', position: 'right', min: 0, max: 75, interval: 5,
      axisLine: { show: false }, axisTick: { show: false }, splitLine: { show: false },
      axisLabel: { align: 'center', margin: 24, color: '#000', fontFamily: mono, fontSize: 11 } },
    hiddenY(1, 1),
    hiddenY(2, 100),
    hiddenY(3, 1),
    hiddenY(4, 1)
  ],
  graphic: graphics,
  series: series
};

myChart.setOption(option);
</script>
</body>
</html>
